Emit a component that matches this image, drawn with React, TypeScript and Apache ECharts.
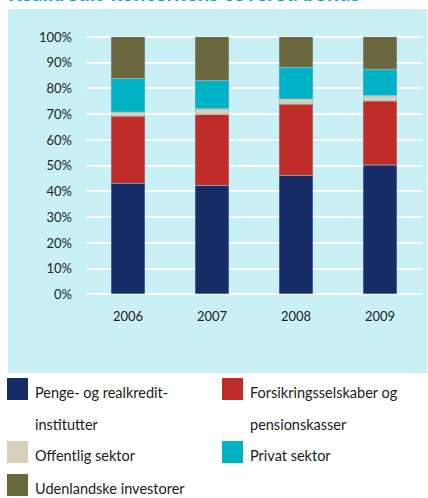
import React, { useEffect, useRef } from "react";
import * as echarts from "echarts";

const categories = ["2006", "2007", "2008", "2009"];
const seriesNames = [
  "Penge- og realkredit-\ninstitutter",
  "Forsikringsselskaber og\npensionskasser",
  "Offentlig sektor",
  "Privat sektor",
  "Udenlandske investorer",
];
const penge = [43.0, 42.2, 46.1, 50.1];
const forsikring = [26.1, 27.6, 27.6, 24.9];
const offentlig = [1.6, 2.2, 2.1, 2.1];
const privat = [13.1, 11.0, 12.3, 10.2];
const udenlandske = [16.2, 17.0, 11.9, 12.7];
const seriesValues = [penge, forsikring, offentlig, privat, udenlandske];
const colors = ["#172b66", "#c02d29", "#d8d0b8", "#00b2c5", "#6b673f"];
const yTicks = [0, 10, 20, 30, 40, 50, 60, 70, 80, 90, 100];
const title = "Realkredit-koncernens covered bonds";

export default function App() {
  const ref = useRef<HTMLDivElement>(null);
  useEffect(() => {
    if (!ref.current) return;
    const chart = echarts.init(ref.current, null, { renderer: "svg" });
    const font = "Lato, 'Noto Sans', sans-serif";
    const legendPos = [
      { x: 7, y: 378 },
      { x: 222, y: 378 },
      { x: 7, y: 441 },
      { x: 222, y: 441 },
      { x: 7, y: 474 },
    ];
    const legendGraphics: any[] = [];
    seriesNames.forEach((name, i) => {
      const p = legendPos[i];
      legendGraphics.push({
        type: "rect",
        shape: { x: p.x, y: p.y, width: 21, height: 22 },
        style: { fill: colors[i] },
      });
      legendGraphics.push({
        type: "text",
        x: p.x + 28,
        y: p.y - 2,
        style: {
          text: name,
          font: `14.5px ${font}`,
          fill: "#1a1a1a",
          lineHeight: 32,
          verticalAlign: "top",
        },
      });
    });
    chart.setOption({
      animation: false,
      graphic: [
        {
          type: "rect",
          z: -10,
          shape: { x: 8, y: 9, width: 419, height: 364 },
          style: { fill: "#c9f0f4" },
        },
        {
          type: "text",
          x: 8,
          y: -8,
          style: {
            text: title,
            font: `bold 21px ${font}`,
            fill: "#00aabf",
            verticalAlign: "middle",
          },
        },
        ...legendGraphics,
      ],
      grid: { left: 86, right: 6, top: 36.7, height: 257.3, containLabel: false },
      xAxis: {
        type: "category",
        data: categories,
        axisLine: { show: false },
        axisTick: { show: false },
        axisLabel: { color: "#222", fontSize: 13, fontFamily: font, margin: 15 },
      },
      yAxis: {
        type: "value",
        min: 0,
        max: 100,
        interval: 10,
        axisLine: { show: false },
        axisTick: { show: false },
        splitLine: { lineStyle: { color: "#ffffff", width: 2 } },
        axisLabel: {
          color: "#222",
          fontSize: 13,
          fontFamily: font,
          margin: 14,
          formatter: (v: number) => (yTicks.includes(v) ? `${v}%` : ""),
        },
      },
      series: seriesValues.map((vals, i) => ({
        name: seriesNames[i],
        type: "bar",
        stack: "total",
        barWidth: 34,
        data: vals,
        itemStyle: { color: colors[i], borderColor: "rgba(120,140,170,0.5)", borderWidth: 0.5 },
      })),
    });
    return () => chart.dispose();
  }, []);
  return (
    <div
      ref={ref}
      style={{ position: "fixed", left: 0, top: 0, width: 428, height: 498, background: "#fff" }}
    />
  );
}
